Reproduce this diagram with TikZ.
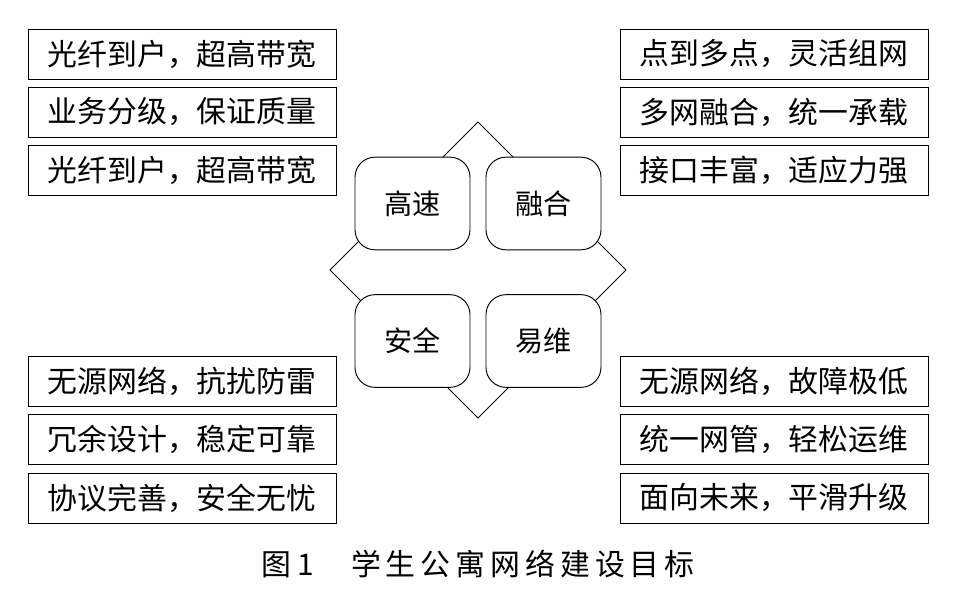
\documentclass[tikz,border=0pt]{standalone}
\usepackage{fontspec}
\newfontfamily\cjk{Noto Sans CJK SC}
\usetikzlibrary{positioning}

\begin{document}
\begin{tikzpicture}[x=0.03cm, y=-0.03cm,
    goalbox/.style={draw=black, thick, minimum width=9.24cm, minimum height=1.5cm, inner sep=0pt, font=\cjk\fontsize{25.5}{28}\selectfont},
    corebox/.style={draw=black, thick, fill=white, rounded corners=0.6cm, minimum width=3.45cm, minimum height=2.78cm, inner sep=0pt, font=\cjk\fontsize{24}{28}\selectfont},
]
\useasboundingbox (0,0) rectangle (974,589);

% === Diamond behind ===
\draw[thick, fill=white] (478,122) -- (626,270) -- (478,418) -- (330,270) -- cycle;

% === Core nodes ===
\node[corebox] (gs) at (412.5,203.5) {高速};
\node[corebox] (rh) at (543.5,203.5) {融合};
\node[corebox] (aq) at (412.5,341) {安全};
\node[corebox] (yw) at (543.5,341) {易维};

% === Left top ===
\node[goalbox] (lt1) at (182,54) {光纤到户，超高带宽};
\node[goalbox] (lt2) at (182,112) {业务分级，保证质量};
\node[goalbox] (lt3) at (182,170) {光纤到户，超高带宽};

% === Right top ===
\node[goalbox] (rt1) at (774,54) {点到多点，灵活组网};
\node[goalbox] (rt2) at (774,112) {多网融合，统一承载};
\node[goalbox] (rt3) at (774,170) {接口丰富，适应力强};

% === Left bottom ===
\node[goalbox] (lb1) at (182,381) {无源网络，抗扰防雷};
\node[goalbox] (lb2) at (182,439.5) {冗余设计，稳定可靠};
\node[goalbox] (lb3) at (182,498) {协议完善，安全无忧};

% === Right bottom ===
\node[goalbox] (rb1) at (774,381) {无源网络，故障极低};
\node[goalbox] (rb2) at (774,439.5) {统一网管，轻松运维};
\node[goalbox] (rb3) at (774,498) {面向未来，平滑升级};

% === Caption ===
\node[font=\cjk\fontsize{25.5}{28}\selectfont] (cap) at (478,564) {图 1\quad\ 学\,生\,公\,寓\,网\,络\,建\,设\,目\,标};
\end{tikzpicture}
\end{document}
